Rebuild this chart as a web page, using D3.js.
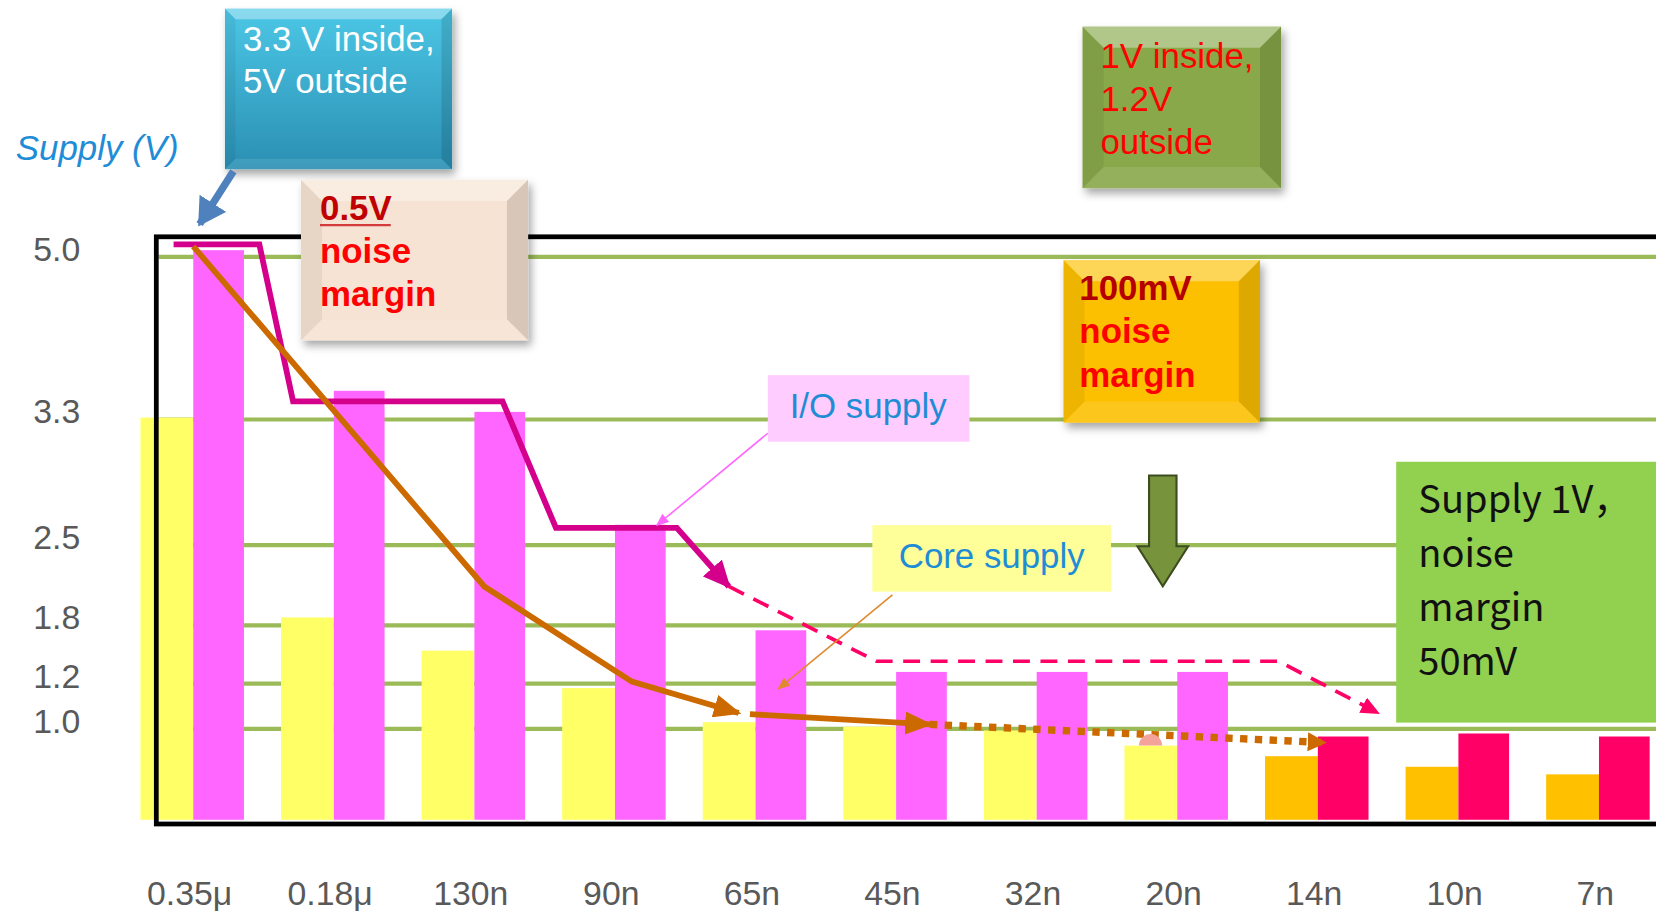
<!DOCTYPE html>
<html>
<head>
<meta charset="utf-8">
<script src="https://cdnjs.cloudflare.com/ajax/libs/d3/7.8.5/d3.min.js"></script>
<style>
body { margin: 0; background: #fff; }
svg { display: block; }
.lbl { font-family: "Liberation Sans", Arial, sans-serif; }
</style>
</head>
<body>
<svg id="chart" width="1656" height="914" viewBox="0 0 1568 865"></svg>
<script>
// process nodes, supplies (V)
var nodes = ["0.35μ", "0.18μ", "130n", "90n", "65n", "45n", "32n", "20n", "14n", "10n", "7n"];
var coreV = [3.32, 1.87, 1.54, 1.18, 1.03, 1.01, 0.99, 0.89, 0.82, 0.75, 0.70];
var ioV   = [5.07, 3.60, 3.38, 2.63, 1.75, 1.32, 1.32, 1.32, 0.95, 0.97, 0.95];
var supplyTicks = [5.0, 3.3, 2.5, 1.8, 1.2, 1.0];

// trend lines: [node index (fractional), volts]
var ioTrend     = [[-0.14, 5.13], [0.47, 5.13], [0.71, 3.49], [2.2, 3.49], [2.58, 2.61], [3.44, 2.61], [3.81, 2.14]];
var ioForecast  = [[3.81, 2.14], [4.86, 1.43], [7.72, 1.43], [8.43, 1.07]];
var coreTrend1  = [[0, 5.11], [2.07, 2.14], [3.12, 1.22], [3.88, 1.07]];
var coreTrend2  = [[3.96, 1.065], [5.24, 1.02]];
var coreForecast = [[5.24, 1.02], [8.05, 0.91]];

var svg = d3.select("#chart");
var defs = svg.append("defs");

var sh = defs.append("filter").attr("id", "shadow")
    .attr("x", "-20%").attr("y", "-20%").attr("width", "150%").attr("height", "150%");
sh.append("feDropShadow").attr("dx", 3).attr("dy", 5).attr("stdDeviation", 4)
    .attr("flood-color", "#000").attr("flood-opacity", 0.35);

var bl = defs.append("filter").attr("id", "blur")
    .attr("x", "-5%").attr("y", "-300%").attr("width", "110%").attr("height", "700%");
bl.append("feGaussianBlur").attr("stdDeviation", 3);

var bg = defs.append("linearGradient").attr("id", "blueGrad").attr("x1", 0).attr("y1", 0).attr("x2", 0).attr("y2", 1);
bg.append("stop").attr("offset", "0%").attr("stop-color", "#4cc7e6");
bg.append("stop").attr("offset", "100%").attr("stop-color", "#2a8fb3");

function marker(id, color, w, h) {
  defs.append("marker").attr("id", id)
      .attr("viewBox", "0 0 10 10").attr("refX", 9).attr("refY", 5)
      .attr("markerUnits", "userSpaceOnUse")
      .attr("markerWidth", w).attr("markerHeight", h)
      .attr("preserveAspectRatio", "none")
      .attr("orient", "auto")
    .append("path").attr("d", "M0,0L10,5L0,10Z").attr("fill", color);
}
marker("ahIO", "#d4008c", 26, 24);
marker("ahCore", "#cc6a00", 26, 22);
marker("ahDash", "#ff0066", 18, 16);
marker("ahDot", "#cc6a00", 18, 18);
marker("ahBlue", "#4f81bd", 26, 30);
marker("ahPink", "#ff66ff", 12, 10);
marker("ahOrange", "#e08a30", 12, 10);

var xCat = d3.scalePoint().domain(nodes).range([183, 1514]);
var xPos = d3.scaleLinear().domain([0, nodes.length - 1]).range(xCat.range());
// broken supply axis: gridlines are not evenly spaced
var y = d3.scaleLinear()
    .domain([0.4, 1.0, 1.2, 1.8, 2.5, 3.3, 5.0])
    .range([776, 690, 647, 592, 516, 397, 243]);

// gridlines with soft shadow
var grid = svg.append("g");
grid.selectAll("line.gs").data(supplyTicks).join("line").attr("class", "gs")
    .attr("x1", 150).attr("x2", 1568)
    .attr("y1", function(d) { return y(d) + 8; }).attr("y2", function(d) { return y(d) + 8; })
    .attr("stroke", "#8a8a8a").attr("stroke-width", 5).attr("opacity", 0.45)
    .attr("filter", "url(#blur)");
grid.selectAll("line.gl").data(supplyTicks).join("line").attr("class", "gl")
    .attr("x1", 150).attr("x2", 1568)
    .attr("y1", y).attr("y2", y)
    .attr("stroke", "#9bbb59").attr("stroke-width", 4);

// bars
var base = y(0.4);
svg.append("g").selectAll("rect").data(nodes).join("rect")
    .attr("x", function(d) { return xCat(d) - 50; })
    .attr("y", function(d, i) { return y(coreV[i]); })
    .attr("width", 50)
    .attr("height", function(d, i) { return base - y(coreV[i]); })
    .attr("fill", function(d, i) { return i >= 8 ? "#ffc000" : "#ffff66"; });
svg.append("g").selectAll("rect").data(nodes).join("rect")
    .attr("x", function(d) { return xCat(d); })
    .attr("y", function(d, i) { return y(ioV[i]); })
    .attr("width", 48)
    .attr("height", function(d, i) { return base - y(ioV[i]); })
    .attr("fill", function(d, i) { return i >= 8 ? "#ff0066" : "#ff66ff"; });

// frame
svg.append("rect").attr("x", 148).attr("y", 224).attr("width", 1500).attr("height", 556)
    .attr("fill", "none").attr("stroke", "#000").attr("stroke-width", 4.5);

// axes
var yAxis = d3.axisLeft(y).tickValues(supplyTicks).tickFormat(d3.format(".1f")).tickSize(0).tickPadding(0);
var ya = svg.append("g").attr("class", "lbl").attr("transform", "translate(76,-7)").call(yAxis);
ya.select(".domain").remove();
ya.selectAll("text").attr("font-size", 32).attr("fill", "#595959")
    .attr("font-family", "'Liberation Sans', Arial, sans-serif");

var xAxis = d3.axisBottom(xCat).tickSize(0).tickPadding(0);
var xa = svg.append("g").attr("class", "lbl").attr("transform", "translate(-4,834)").call(xAxis);
xa.select(".domain").remove();
xa.selectAll("text").attr("font-size", 32).attr("fill", "#595959")
    .attr("font-family", "'Liberation Sans', Arial, sans-serif");

// trend lines
var line = d3.line().x(function(d) { return xPos(d[0]); }).y(function(d) { return y(d[1]); });
svg.append("path").datum(ioTrend).attr("d", line).attr("fill", "none")
    .attr("stroke", "#d4008c").attr("stroke-width", 5.5).attr("marker-end", "url(#ahIO)");
svg.append("path").datum(ioForecast).attr("d", line).attr("fill", "none")
    .attr("stroke", "#ff0066").attr("stroke-width", 3.5).attr("stroke-dasharray", "16,10")
    .attr("marker-end", "url(#ahDash)");
svg.append("path").datum(coreTrend1).attr("d", line).attr("fill", "none")
    .attr("stroke", "#cc6a00").attr("stroke-width", 5.5).attr("marker-end", "url(#ahCore)");
svg.append("path").datum(coreTrend2).attr("d", line).attr("fill", "none")
    .attr("stroke", "#cc6a00").attr("stroke-width", 5.5).attr("marker-end", "url(#ahCore)");
svg.append("path").datum(coreForecast).attr("d", line).attr("fill", "none")
    .attr("stroke", "#cc6a00").attr("stroke-width", 7).attr("stroke-dasharray", "7,7")
    .attr("marker-end", "url(#ahDot)");
// small salmon cap on the 20n core bar
svg.append("path")
    .attr("d", d3.arc()({innerRadius: 0, outerRadius: 11, startAngle: -Math.PI / 2, endAngle: Math.PI / 2}))
    .attr("transform", "translate(" + xPos(6.81) + "," + y(coreV[7]) + ")")
    .attr("fill", "#f4a39a");

// annotation boxes
function bevelBox(x, yy, w, h, fill, b) {
  var g = svg.append("g").attr("filter", "url(#shadow)");
  g.append("rect").attr("x", x).attr("y", yy).attr("width", w).attr("height", h).attr("fill", fill);
  var faces = [
    {p: [[x, yy], [x + w, yy], [x + w - b, yy + b], [x + b, yy + b]], c: "#fff", o: 0.35},
    {p: [[x, yy], [x + b, yy + b], [x + b, yy + h - b], [x, yy + h]], c: "#000", o: 0.06},
    {p: [[x + w, yy], [x + w, yy + h], [x + w - b, yy + h - b], [x + w - b, yy + b]], c: "#000", o: 0.12},
    {p: [[x, yy + h], [x + b, yy + h - b], [x + w - b, yy + h - b], [x + w, yy + h]], c: "#fff", o: 0.1}
  ];
  g.selectAll("polygon").data(faces).join("polygon")
      .attr("points", function(d) { return d.p.join(" "); })
      .attr("fill", function(d) { return d.c; })
      .attr("fill-opacity", function(d) { return d.o; });
  return g;
}
function lines(g, rows, x, y0, lh, size, font) {
  var t = g.append("text").attr("x", x).attr("y", y0)
      .attr("font-family", font || "'Liberation Sans', Arial, sans-serif").attr("font-size", size);
  rows.forEach(function(r, i) {
    t.append("tspan").attr("x", x).attr("dy", i ? lh : 0)
        .attr("fill", r.c).attr("font-weight", r.b ? "bold" : null).text(r.t);
  });
  return t;
}

var blueBox = bevelBox(213, 8, 215, 152, "url(#blueGrad)", 10);
lines(svg.append("g"), [{t: "3.3 V inside,", c: "#fff"}, {t: "5V outside", c: "#fff"}], 230, 48, 40, 33);

var beige = bevelBox(285, 170, 215, 152, "#f6e3d3", 20);
var tb = svg.append("g");
lines(tb, [{t: "0.5V", c: "#c00000", b: 1}, {t: "noise", c: "#ff0000", b: 1}, {t: "margin", c: "#ff0000", b: 1}], 303, 208, 41, 33);
tb.append("line").attr("x1", 303).attr("x2", 370).attr("y1", 213).attr("y2", 213)
    .attr("stroke", "#d43c3c").attr("stroke-width", 2);

bevelBox(1025, 25, 188, 153, "#88a84a", 20);
lines(svg.append("g"), [{t: "1V inside,", c: "#ff0000"}, {t: "1.2V", c: "#ff0000"}, {t: "outside", c: "#ff0000"}], 1042, 64, 41, 33);

bevelBox(1007, 246, 186, 154, "#fcc000", 20);
lines(svg.append("g"), [{t: "100mV", c: "#b40000", b: 1}, {t: "noise", c: "#ff0000", b: 1}, {t: "margin", c: "#ff0000", b: 1}], 1022, 284, 41, 33);

svg.append("rect").attr("x", 727).attr("y", 355).attr("width", 191).attr("height", 63).attr("fill", "#ffccff");
svg.append("text").attr("class", "lbl").attr("x", 822).attr("y", 396).attr("text-anchor", "middle")
    .attr("font-size", 33).attr("fill", "#1f8dd6").text("I/O supply");
svg.append("line").attr("x1", 727).attr("y1", 410).attr("x2", 622).attr("y2", 497)
    .attr("stroke", "#ff66ff").attr("stroke-width", 1.5).attr("marker-end", "url(#ahPink)");

svg.append("rect").attr("x", 826).attr("y", 497).attr("width", 226).attr("height", 63).attr("fill", "#ffff99");
svg.append("text").attr("class", "lbl").attr("x", 939).attr("y", 538).attr("text-anchor", "middle")
    .attr("font-size", 33).attr("fill", "#1f8dd6").text("Core supply");
svg.append("line").attr("x1", 845).attr("y1", 563).attr("x2", 737).attr("y2", 652)
    .attr("stroke", "#e08a30").attr("stroke-width", 1.5).attr("marker-end", "url(#ahOrange)");

// down arrow
svg.append("polygon")
    .attr("points", [[1088, 450], [1114, 450], [1114, 517], [1125, 517], [1101, 555], [1077, 517], [1088, 517]].join(" "))
    .attr("fill", "#77933c").attr("stroke", "#3d4d1f").attr("stroke-width", 2);

svg.append("rect").attr("x", 1322).attr("y", 437).attr("width", 246).attr("height", 247).attr("fill", "#92d050");
lines(svg.append("g"), [{t: "Supply 1V，", c: "#111"}, {t: "noise", c: "#111"}, {t: "margin", c: "#111"}, {t: "50mV", c: "#111"}],
    1343, 486, 51, 36, "'Noto Sans CJK SC', 'Noto Sans', sans-serif");

svg.append("text").attr("class", "lbl").attr("x", 15).attr("y", 151)
    .attr("font-size", 33).attr("font-style", "italic").attr("fill", "#1f8dd6").text("Supply (V)");

svg.append("line").attr("x1", 221).attr("y1", 162).attr("x2", 189).attr("y2", 212)
    .attr("stroke", "#4f81bd").attr("stroke-width", 7).attr("marker-end", "url(#ahBlue)");
</script>
</body>
</html>
